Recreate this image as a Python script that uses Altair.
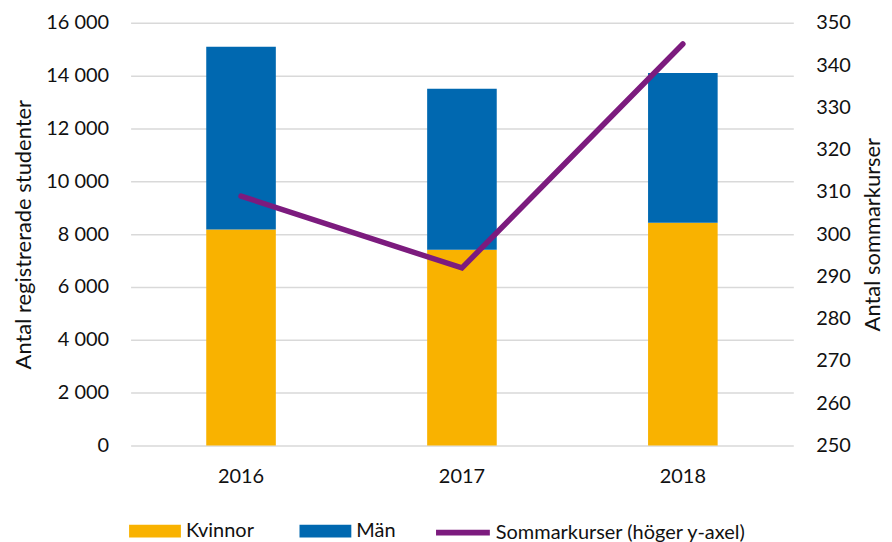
import altair as alt
import pandas as pd

years = ["2016", "2017", "2018"]
kvinnor = [8180, 7410, 8430]
man = [6920, 6100, 5670]
sommarkurser = [309, 292, 345]
bar_series = ["Kvinnor", "Män"]
bar_colors = ["#F9B200", "#0068B0"]
line_series = ["Sommarkurser (höger y-axel)"]
line_colors = ["#7C1B7E"]
left_ticks = list(range(0, 16001, 2000))
right_ticks = list(range(250, 351, 10))

bars_df = pd.DataFrame({
    "year": years * 2,
    "serie": [bar_series[0]] * 3 + [bar_series[1]] * 3,
    "value": kvinnor + man,
    "ord": [0] * 3 + [1] * 3,
})
line_df = pd.DataFrame({"year": years, "serie": line_series * 3, "value": sommarkurser})

FONT = "Lato"
TXT = "#111111"
LBL = 20
TTL = 22

x = alt.X(
    "year:N",
    scale=alt.Scale(paddingInner=0.685, paddingOuter=0.3425),
    axis=alt.Axis(title=None, labelAngle=0, domain=False, ticks=False, grid=False,
                  labelPadding=21, labelFontSize=LBL, labelFont=FONT, labelColor=TXT),
)

bars = alt.Chart(bars_df).mark_bar().encode(
    x=x,
    y=alt.Y(
        "value:Q", stack="zero",
        scale=alt.Scale(domain=[0, 16000], nice=False),
        axis=alt.Axis(
            values=left_ticks,
            labelExpr="replace(format(datum.value, ','), ',', ' ')",
            title="Antal registrerade studenter", titleFontSize=TTL, titleFont=FONT,
            titleFontWeight="normal", titleColor=TXT, titlePadding=10,
            labelFontSize=LBL, labelFont=FONT, labelColor=TXT, labelPadding=22,
            domain=False, ticks=False, gridColor="#d9d9d9", gridWidth=1.5,
        ),
    ),
    color=alt.Color(
        "serie:N",
        scale=alt.Scale(domain=bar_series, range=bar_colors),
        legend=alt.Legend(
            orient="none", legendX=-1.5, legendY=484, direction="horizontal", title=None,
            labelFontSize=LBL, labelFont=FONT, labelColor=TXT, labelLimit=400,
            symbolType="M-1,-0.25H1V0.25H-1Z", symbolSize=2704, symbolStrokeWidth=0,
            labelOffset=5, columnPadding=45,
        ),
    ),
    order=alt.Order("ord:Q"),
)

line = alt.Chart(line_df).mark_line(strokeWidth=5.5, strokeCap="round").encode(
    x=x,
    y=alt.Y(
        "value:Q",
        scale=alt.Scale(domain=[250, 350], nice=False, zero=False),
        axis=alt.Axis(
            orient="right", values=right_ticks, grid=False,
            title="Antal sommarkurser", titleAngle=270, titleBaseline="top",
            titleFontSize=TTL, titleFont=FONT, titleFontWeight="normal",
            titleColor=TXT, titlePadding=12,
            labelFontSize=LBL, labelFont=FONT, labelColor=TXT, labelPadding=22.5,
            domain=False, ticks=False,
        ),
    ),
    stroke=alt.Stroke(
        "serie:N",
        scale=alt.Scale(domain=line_series, range=line_colors),
        legend=alt.Legend(
            orient="none", legendX=303.5, legendY=481.5, direction="horizontal", title=None,
            labelFontSize=LBL, labelFont=FONT, labelColor=TXT, labelLimit=500,
            symbolType="stroke", symbolSize=2916, symbolStrokeWidth=6,
            labelOffset=3,
        ),
    ),
)

chart = (
    alt.layer(bars, line)
    .resolve_scale(y="independent")
    .properties(width=665, height=424, padding={"left": 4, "top": 4, "right": 0, "bottom": 0})
    .configure(background="white")
    .configure_view(stroke=None)
)

chart.save("out.html", embed_options={"renderer": "svg", "actions": False})
